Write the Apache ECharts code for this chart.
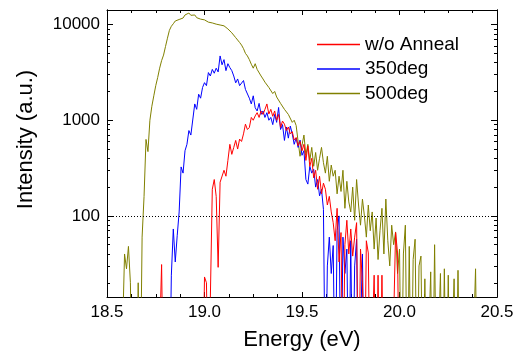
<!DOCTYPE html>
<html>
<head>
<meta charset="utf-8">
<script src="https://cdn.jsdelivr.net/npm/echarts@6/dist/echarts.min.js"></script>
<style>
  html, body { margin: 0; padding: 0; background: #fff; }
  #chart { width: 519px; height: 356px; }
</style>
</head>
<body>
<div id="chart"></div>
<script>
// energy step of the spectra (eV); 1 = no counts (below the axis)
const STEP = 0.01;

const seriesNames = ['w/o Anneal', '350deg', '500deg'];

const noAnnealStart = 18.76;
const noAnneal = [
  1, 1, 31, 1, 1, 1, 1, 1, 1, 1, 1, 1, 1, 1, 1, 1, 1, 1, 1, 1,
  1, 1, 1, 1,
  23, 20, 1, 1, 190, 240, 160, 29, 225, 215,
  300, 260, 380, 560, 440, 520, 615, 500, 635, 600,
  720, 910, 800, 840, 1070, 1000, 1110, 1200, 1070, 1250,
  1150, 1300, 1480, 1160, 1300, 1100, 1250, 1000, 1150, 840,
  980, 910, 780, 850, 720, 760, 620, 660, 540, 600,
  480, 560, 380, 540, 330, 400, 250, 300, 190, 260,
  170, 220, 190, 130, 160, 110, 85, 55, 120, 33,
  67, 1, 50, 90, 40, 73, 38, 60, 85, 1,
  45, 20, 1, 55, 41, 1, 1, 24, 1, 24,
  1, 24, 1, 1, 1, 1, 1, 1, 67, 41, 1
];

const deg350Start = 18.80;
const deg350 = [
  1, 1, 1, 24, 73, 33, 62, 110, 325, 280,
  480, 560, 780, 700, 690, 1480, 1300, 1870, 1700, 2200,
  2470, 2300, 3150, 2900, 3400, 3100, 3500, 3200, 4700, 3800,
  4300, 3300, 3900, 3550, 3300, 2900, 2460, 2700, 2300, 2390,
  2600, 2100, 2190, 1700, 1480, 1800, 1350, 1250, 1500, 1150,
  1250, 1070, 1200, 1000, 1070, 900, 1150, 950, 1360, 800,
  900, 615, 850, 650, 870, 720, 560, 650, 520, 620,
  430, 480, 240, 215, 330, 280, 307, 200, 240, 162,
  190, 117, 1, 30, 60, 25, 49, 1, 70, 100,
  1, 60, 25, 45, 1, 55, 1, 30, 57, 1,
  1, 40, 1, 1, 1
];

const deg500Start = 18.57;
const deg500 = [
  1, 1, 40, 28, 48, 20, 1, 1, 1, 20,
  1, 60, 160, 630, 470, 1000, 1400, 1800, 2300, 2800,
  3500, 4200, 4800, 5900, 7200, 8700, 9600, 10200, 10900, 10600,
  11300, 11100, 11700, 12600, 12200, 13200, 12500, 12000, 12600, 11800,
  12300, 11400, 11900, 11200, 11000, 10600, 11100, 10400, 10700, 10100,
  10300, 9900, 10200, 9700, 9300, 9000, 8600, 8200, 7900, 7300,
  7000, 6500, 6100, 5600, 5000, 4700, 4300, 3850, 3500, 3900,
  3400, 3300, 2900, 2700, 2500, 2400, 2200, 2250, 1900, 2000,
  1750, 1700, 1500, 1550, 1300, 1350, 1150, 1200, 950, 1000,
  880, 600, 420, 550, 700, 430, 560, 380, 520, 330,
  460, 300, 400, 520, 360, 280, 420, 230, 340, 260,
  300, 170, 260, 180, 300, 120, 230, 140, 110, 200,
  90, 240, 130, 80, 150, 100, 60, 130, 70, 110,
  45, 95, 35, 70, 120, 40, 150, 55, 30, 80,
  50, 68, 25, 45, 1, 40, 80, 1, 48, 1,
  35, 57, 1, 30, 38, 1, 22, 1, 1, 26,
  1, 50, 1, 1, 25, 1, 28, 1, 24, 1,
  1, 22, 1, 27, 1, 1, 1, 1, 1, 1,
  1, 1, 28, 1
];

const xTicks = [18.5, 19.0, 19.5, 20.0, 20.5];
const yMajorTicks = [100, 1000, 10000];
const yMinorTicks = [20, 30, 40, 50, 60, 70, 80, 90,
  200, 300, 400, 500, 600, 700, 800, 900,
  2000, 3000, 4000, 5000, 6000, 7000, 8000, 9000];
const refLevel = 100;

function toPairs(start, vals) {
  return vals.map((v, i) => [+(start + i * STEP).toFixed(3), v]);
}

const FONT = 'Liberation Sans, Arial, sans-serif';
const chart = echarts.init(document.getElementById('chart'));

function xAxisBase(pos, showLabel) {
  return {
    type: 'value',
    position: pos,
    min: xTicks[0],
    max: xTicks[xTicks.length - 1],
    interval: 0.5,
    axisLine: { show: true, onZero: false, lineStyle: { color: '#000', width: 1 } },
    axisTick: { show: true, inside: true, length: 5, lineStyle: { color: '#000' } },
    minorTick: { show: true, splitNumber: 4, length: 3, lineStyle: { color: '#000' } },
    splitLine: { show: false },
    axisLabel: {
      show: showLabel, color: '#000', fontSize: 17, fontFamily: FONT, margin: 7,
      formatter: v => v.toFixed(1)
    }
  };
}

function yAxisBase(pos, ticks, len, showLabel) {
  return {
    type: 'log',
    logBase: 10,
    position: pos,
    min: 14.2,
    max: 14200,
    axisLine: { show: true, onZero: false, lineStyle: { color: '#000', width: 1 } },
    axisTick: { show: true, inside: true, length: len, customValues: ticks, lineStyle: { color: '#000' } },
    splitLine: { show: false },
    axisLabel: {
      show: showLabel, color: '#000', fontSize: 17, fontFamily: FONT, margin: 7,
      customValues: yMajorTicks,
      formatter: v => String(Math.round(v))
    }
  };
}

const yLeft = yAxisBase('left', yMajorTicks, 6, true);
yLeft.name = 'Intensity (a.u.)';
yLeft.nameLocation = 'middle';
yLeft.nameGap = 70;
yLeft.nameTextStyle = { color: '#000', fontSize: 22, fontFamily: FONT, padding: [0, 0, 0, 28] };

const xBottom = xAxisBase('bottom', true);
xBottom.name = 'Energy (eV)';
xBottom.nameLocation = 'middle';
xBottom.nameGap = 32;
xBottom.nameTextStyle = { color: '#000', fontSize: 22, fontFamily: FONT };

const colors = ['#ff0000', '#0000ff', '#808000'];
const dataSets = [
  toPairs(noAnnealStart, noAnneal),
  toPairs(deg350Start, deg350),
  toPairs(deg500Start, deg500)
];

const series = seriesNames.map((name, i) => ({
  name: name,
  type: 'line',
  xAxisIndex: 0,
  yAxisIndex: 0,
  data: dataSets[i],
  symbol: 'none',
  clip: true,
  z: 3 - i,
  lineStyle: { color: colors[i], width: 1 },
  itemStyle: { color: colors[i] }
}));

series[0].markLine = {
  silent: true,
  symbol: 'none',
  label: { show: false },
  lineStyle: { color: '#000', type: [1, 2], width: 1 },
  data: [{ yAxis: refLevel }]
};

chart.setOption({
  animation: false,
  backgroundColor: '#fff',
  grid: { left: 107, right: 22, top: 10, bottom: 58 },
  legend: {
    orient: 'vertical',
    left: 312,
    top: 30,
    icon: 'rect',
    itemWidth: 43,
    itemHeight: 1.5,
    itemGap: 5.5,
    data: seriesNames,
    textStyle: { color: '#000', fontSize: 19, fontFamily: FONT }
  },
  xAxis: [xBottom, xAxisBase('top', false)],
  yAxis: [
    yLeft,
    yAxisBase('left', yMinorTicks, 3, false),
    yAxisBase('right', yMajorTicks, 6, false),
    yAxisBase('right', yMinorTicks, 3, false)
  ],
  series: series
});
</script>
</body>
</html>
